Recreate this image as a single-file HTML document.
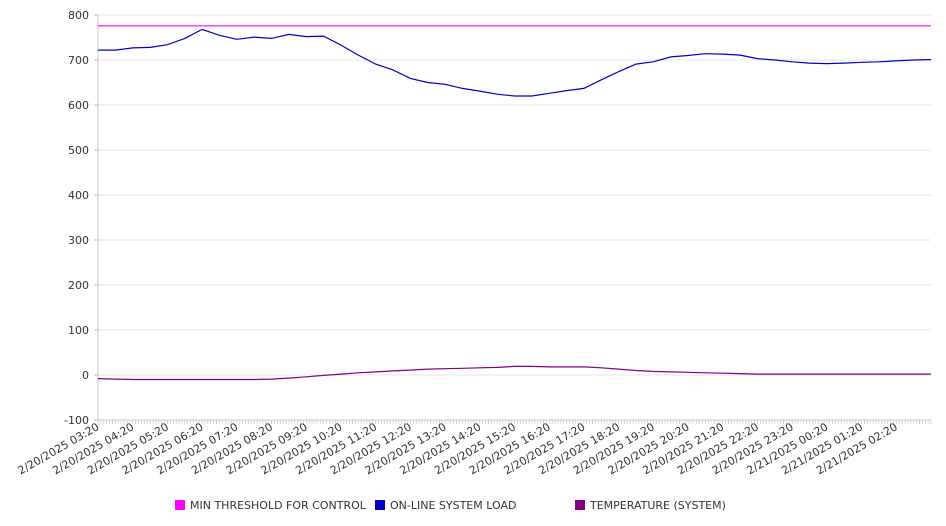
<!DOCTYPE html>
<html><head><meta charset="utf-8"><style>
html,body{margin:0;padding:0;background:#fff;}
svg{display:block;font-family:"DejaVu Sans","Liberation Sans",sans-serif;}
</style></head><body>
<svg id="chart" width="946" height="526" viewBox="0 0 946 526" xmlns="http://www.w3.org/2000/svg">
<g id="grid"></g>
<g id="yaxis"></g>
<g id="xaxis"></g>
<g id="series"></g>
<g id="legend"></g>
</svg>
<script>
const yTicks = [800,700,600,500,400,300,200,100,0,-100];
const xTickLabels = ["2/20/2025 03:20","2/20/2025 04:20","2/20/2025 05:20","2/20/2025 06:20","2/20/2025 07:20","2/20/2025 08:20","2/20/2025 09:20","2/20/2025 10:20","2/20/2025 11:20","2/20/2025 12:20","2/20/2025 13:20","2/20/2025 14:20","2/20/2025 15:20","2/20/2025 16:20","2/20/2025 17:20","2/20/2025 18:20","2/20/2025 19:20","2/20/2025 20:20","2/20/2025 21:20","2/20/2025 22:20","2/20/2025 23:20","2/21/2025 00:20","2/21/2025 01:20","2/21/2025 02:20"];
// hours since 03:20, half-hour samples
const hours = [0,0.5,1,1.5,2,2.5,3,3.5,4,4.5,5,5.5,6,6.5,7,7.5,8,8.5,9,9.5,10,10.5,11,11.5,12,12.5,13,13.5,14,14.5,15,15.5,16,16.5,17,17.5,18,18.5,19,19.5,20,20.5,21,21.5,22,22.5,23,23.5,24];
const minThreshold = [776,776,776,776,776,776,776,776,776,776,776,776,776,776,776,776,776,776,776,776,776,776,776,776,776,776,776,776,776,776,776,776,776,776,776,776,776,776,776,776,776,776,776,776,776,776,776,776,776];
const systemLoad = [722,722,727,728,734,748,768,755,746,751,748,757,752,753,733,711,691,678,659,650,646,637,631,624,620,620,626,632,637,656,674,691,696,707,710,714,713,711,703,700,696,693,692,693,695,696,698,700,701];
const temperature = [-8,-9,-10,-10,-10,-10,-10,-10,-10,-10,-9,-7,-4,-1,2,5,7,9,11,13,14,15,16,17,19,19,18,18,18,16,13,10,8,7,6,5,4,3,2,2,2,2,2,2,2,2,2,2,2];
const seriesNames = ["MIN THRESHOLD FOR CONTROL","ON-LINE SYSTEM LOAD","TEMPERATURE (SYSTEM)"];
const seriesColors = ["#ff00ff","#0000cc","#800080"];

const NS="http://www.w3.org/2000/svg";
const X0=98, X1=931, Y800=15, Y0=375;
const xs = h => X0 + (X1-X0)*h/24;
const ys = v => Y0 - (v)*(Y0-Y800)/800;
function mk(tag, attrs, parent){const e=document.createElementNS(NS,tag);for(const k in attrs)e.setAttribute(k,attrs[k]);parent.appendChild(e);return e;}
const grid=document.getElementById('grid'), yaxis=document.getElementById('yaxis'), xaxis=document.getElementById('xaxis'), series=document.getElementById('series'), legend=document.getElementById('legend');

yTicks.forEach(v=>{
  const y=ys(v);
  const gl=mk('line',{x1:X0,x2:X1,y1:y,y2:y,stroke:'#e6e6e6','stroke-width':1},grid);
  
  
  const tk=mk('line',{x1:X0-4,x2:X0,y1:y,y2:y,stroke:'#bbb'},yaxis);
  
  
  const t=mk('text',{x:X0-9,y:y+4,'text-anchor':'end','font-size':11,fill:'#333'},yaxis);
  t.textContent=v;
  
  
});
const ya=mk('line',{x1:X0,x2:X0,y1:Y800,y2:ys(-100),stroke:'#c8c8c8'},yaxis);


const yb=ys(-100);
const xa=mk('line',{x1:X0,x2:X1,y1:yb,y2:yb,stroke:'#c8c8c8'},xaxis);


for(let m=0;m<=24*12;m++){
  const x=xs(m/12);
  const mt=mk('line',{x1:x,x2:x,y1:yb,y2:yb+4,stroke:'#ccc','stroke-width':0.8},xaxis);
  
  
}
xTickLabels.forEach((s,i)=>{
  const x=xs(i)+2, y=yb+9;
  const t=mk('text',{x:x,y:y,'text-anchor':'end','font-size':11,fill:'#333',transform:`rotate(-30 ${x} ${y})`},xaxis);
  t.textContent=s;
  
  
});
[minThreshold,systemLoad,temperature].forEach((arr,si)=>{
  const d=arr.map((v,i)=>(i?'L':'M')+xs(hours[i]).toFixed(1)+','+ys(v).toFixed(1)).join(' ');
  const p=mk('path',{d:d,fill:'none',stroke:seriesColors[si],'stroke-width':1.2},series);
  
  
});
const lx=[175,375,575];
seriesNames.forEach((n,i)=>{
  const r=mk('rect',{x:lx[i],y:500,width:10,height:10,fill:seriesColors[i]},legend);
  
  
  const t=mk('text',{x:lx[i]+15,y:509,'font-size':11,fill:'#333'},legend);
  t.textContent=n;
  
  
});
</script>
</body></html>
